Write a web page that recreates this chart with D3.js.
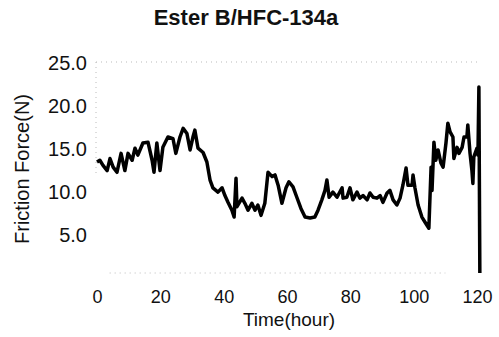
<!DOCTYPE html>
<html>
<head>
<meta charset="utf-8">
<script src="https://cdn.jsdelivr.net/npm/d3@7"></script>
<style>
  body { margin: 0; background: #fff; }
  text { font-family: "Liberation Sans", Arial, sans-serif; fill: #111; }
</style>
</head>
<body>
<svg id="main-chart"></svg>
<script>
// time in hours, friction force in N
const hours = [0, 0.9, 1.9, 3.2, 4.1, 5.1, 6.3, 7.6, 8.8, 9.8, 11.1, 12.0, 12.9, 14.5, 16.1, 17.4, 18.0, 18.9, 19.9,
  20.8, 22.4, 24.0, 24.9, 26.2, 27.2, 28.4, 29.4, 30.3, 30.9, 31.9, 33.5, 34.7, 35.7, 36.6, 38.2, 39.5,
  40.4, 41.4, 42.6, 43.3, 43.9, 44.2, 45.8, 46.7, 47.7, 48.9, 49.9, 50.8, 51.8, 53.0, 54.0, 55.3, 56.2,
  57.2, 58.4, 59.7, 60.6, 61.9, 63.1, 64.4, 65.7, 67.3, 68.8, 69.8, 71.0, 72.0, 72.6, 73.3, 74.5, 75.8,
  77.4, 77.7, 78.9, 79.9, 80.8, 82.1, 83.0, 84.0, 85.3, 86.2, 87.2, 88.4, 89.4, 90.3, 91.6, 92.5, 93.5,
  94.7, 95.7, 96.6, 97.6, 98.2, 99.5, 99.8, 100.4, 101.4, 102.6, 103.6, 104.8, 105.5, 105.8, 106.4,
  107.0, 107.7, 108.6, 109.3, 110.2, 110.8, 111.5, 112.4, 112.7, 113.7, 114.3, 115.3, 115.9, 116.8,
  117.1, 117.8, 118.4, 118.7, 119.0, 120.0, 120.3, 120.6, 120.9];
const force = [13.5, 13.7, 13.1, 12.5, 13.9, 12.9, 12.3, 14.5, 12.5, 14.5, 13.7, 15.1, 14.3, 15.7, 15.8, 13.7, 12.3, 15.7, 12.5,
  15.2, 16.4, 16.2, 14.5, 16.4, 17.4, 16.8, 14.9, 16.4, 17.2, 15.1, 14.6, 13.5, 11.4, 10.5, 10.0, 10.5,
  9.6, 8.8, 7.9, 7.1, 11.6, 8.3, 9.3, 8.7, 7.9, 8.7, 7.9, 8.5, 7.3, 8.7, 12.3, 11.8, 12.0,
  10.8, 8.7, 10.5, 11.2, 10.6, 9.4, 8.1, 7.1, 7.0, 7.1, 7.9, 9.1, 10.2, 11.4, 9.4, 10.0, 9.4,
  10.5, 9.3, 9.4, 10.5, 9.1, 10.0, 9.3, 9.6, 9.1, 9.9, 9.4, 9.3, 9.6, 8.8, 9.9, 10.2, 9.1,
  8.5, 9.3, 10.8, 12.8, 10.8, 10.8, 12.0, 10.5, 8.5, 7.1, 6.5, 5.8, 12.9, 10.2, 15.8,
  13.7, 14.9, 13.4, 12.9, 15.7, 18.0, 17.0, 16.4, 13.9, 15.2, 14.5, 15.2, 16.4, 16.4,
  17.8, 14.5, 12.5, 11.0, 14.1, 15.1, 14.3, 22.2, 0.6];

const xTicks = [0, 20, 40, 60, 80, 100, 120];
const yTicks = [5, 10, 15, 20, 25];

const width = 499, height = 337;

const x = d3.scaleLinear().domain([0, 120]).range([97, 477]);
const y = d3.scaleLinear().domain([0.6, 25]).range([273, 63]);

const svg = d3.select("#main-chart")
  .attr("width", width)
  .attr("height", height);

// faint dotted frame of the original plot
const frame = svg.append("g")
  .attr("stroke", "#bbb")
  .attr("stroke-width", 1)
  .attr("stroke-dasharray", "1,4")
  .attr("fill", "none");
frame.append("line").attr("x1", x(0) - 1).attr("x2", x(121)).attr("y1", y(25) - 1).attr("y2", y(25) - 1);
frame.append("line").attr("x1", x(4)).attr("x2", x(110)).attr("y1", y(0.6)).attr("y2", y(0.6));
frame.append("line").attr("x1", x(0) - 1).attr("x2", x(0) - 1).attr("y1", y(25) - 1).attr("y2", y(12));

const data = hours.map((t, i) => ({t: t, f: force[i]}));

const line = d3.line()
  .x(d => x(d.t))
  .y(d => y(d.f));

svg.append("path")
  .datum(data)
  .attr("fill", "none")
  .attr("stroke", "#000")
  .attr("stroke-width", 3.5)
  .attr("stroke-linejoin", "round")
  .attr("d", line);

const yAxis = g => g
  .attr("transform", `translate(${x(0) - 1},0)`)
  .call(d3.axisLeft(y).tickValues(yTicks).tickFormat(d3.format(".1f")).tickSize(0).tickPadding(9))
  .call(g => g.select(".domain").remove())
  .call(g => g.selectAll("text").attr("font-size", 20).attr("font-family", null));

const xAxis = g => g
  .attr("transform", `translate(0,${y(0.6)})`)
  .call(d3.axisBottom(x).tickValues(xTicks).tickSize(0).tickPadding(17))
  .call(g => g.select(".domain").remove())
  .call(g => g.selectAll("text").attr("font-size", 18).attr("font-family", null));

svg.append("g").call(yAxis);
svg.append("g").call(xAxis);

svg.append("text")
  .attr("x", 246)
  .attr("y", 25)
  .attr("text-anchor", "middle")
  .attr("font-size", 22)
  .attr("font-weight", "bold")
  .text("Ester B/HFC-134a");

svg.append("text")
  .attr("x", 289)
  .attr("y", 326)
  .attr("text-anchor", "middle")
  .attr("font-size", 19)
  .text("Time(hour)");

svg.append("text")
  .attr("transform", "translate(29,169) rotate(-90)")
  .attr("text-anchor", "middle")
  .attr("font-size", 20)
  .text("Friction Force(N)");
</script>
</body>
</html>
